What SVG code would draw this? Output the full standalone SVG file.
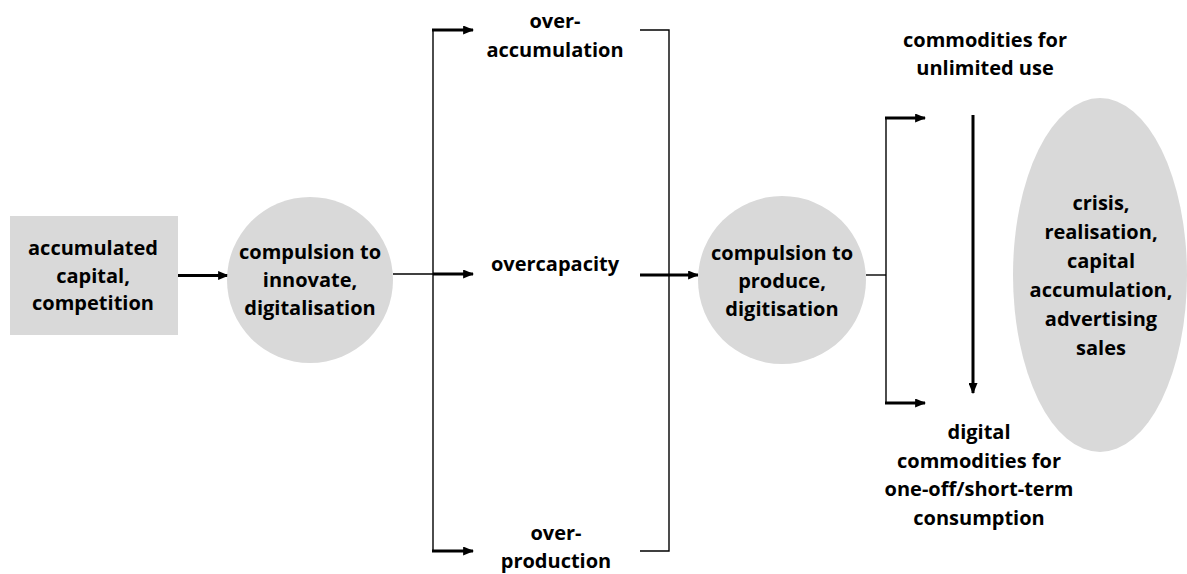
<svg xmlns="http://www.w3.org/2000/svg" width="1187" height="574" viewBox="0 0 1187 574">
<defs>
<style>
.node{fill:#d9d9d9;stroke:none}
.t{font-family:"Open Sans","Noto Sans",sans-serif;font-weight:bold;font-size:20px;fill:#000;text-anchor:middle}
.thick{stroke:#000;stroke-width:3;fill:none}
.thin{stroke:#000;stroke-width:1.4;fill:none}
</style>
<marker id="ah" viewBox="0 0 10 10" refX="9" refY="5" markerWidth="11" markerHeight="9" markerUnits="userSpaceOnUse" orient="auto" preserveAspectRatio="none">
<path d="M0,0 L10,5 L0,10 Z" fill="#000"/>
</marker>
</defs>
<rect width="1187" height="574" fill="#fff"/>

<g id="connectors">
<line class="thick" x1="178" y1="275.5" x2="228" y2="275.5" marker-end="url(#ah)"/>
<line class="thin" x1="393" y1="274" x2="433" y2="274"/>
<line class="thin" x1="433" y1="30" x2="433" y2="551"/>
<line class="thick" x1="432" y1="30" x2="473" y2="30" marker-end="url(#ah)"/>
<line class="thick" x1="433" y1="274" x2="473" y2="274" marker-end="url(#ah)"/>
<line class="thick" x1="432" y1="551" x2="473" y2="551" marker-end="url(#ah)"/>
<polyline class="thin" points="640,30 669,30 669,551 640,551"/>
<line class="thick" x1="640" y1="275" x2="698" y2="275" marker-end="url(#ah)"/>
<line class="thin" x1="866" y1="275" x2="886" y2="275"/>
<line class="thin" x1="886" y1="118" x2="886" y2="403"/>
<line class="thick" x1="885" y1="118" x2="925" y2="118" marker-end="url(#ah)"/>
<line class="thick" x1="885" y1="403" x2="925" y2="403" marker-end="url(#ah)"/>
<line class="thick" x1="973" y1="115" x2="973" y2="393" marker-end="url(#ah)"/>
</g>

<g id="n-capital">
<rect class="node" x="10" y="216" width="168" height="119"/>
<text class="t" x="93" y="255">accumulated</text>
<text class="t" x="93" y="282.5">capital,</text>
<text class="t" x="93" y="310">competition</text>
</g>

<g id="n-innovate">
<circle class="node" cx="310" cy="280" r="83"/>
<text class="t" x="310" y="259">compulsion to</text>
<text class="t" x="310" y="287">innovate,</text>
<text class="t" x="310" y="315">digitalisation</text>
</g>

<g id="n-overaccumulation">
<text class="t" x="555" y="28">over-</text>
<text class="t" x="555" y="57">accumulation</text>
</g>

<g id="n-overcapacity">
<text class="t" x="555" y="271">overcapacity</text>
</g>

<g id="n-overproduction">
<text class="t" x="556" y="540">over-</text>
<text class="t" x="556" y="568">production</text>
</g>

<g id="n-produce">
<circle class="node" cx="782" cy="280" r="84"/>
<text class="t" x="782" y="260">compulsion to</text>
<text class="t" x="782" y="288">produce,</text>
<text class="t" x="782" y="316">digitisation</text>
</g>

<g id="n-unlimited">
<text class="t" x="985" y="47">commodities for</text>
<text class="t" x="985" y="75">unlimited use</text>
</g>

<g id="n-oneoff">
<text class="t" x="979" y="439">digital</text>
<text class="t" x="979" y="467.5">commodities for</text>
<text class="t" x="979" y="496">one-off/short-term</text>
<text class="t" x="979" y="524.5">consumption</text>
</g>

<g id="n-crisis">
<ellipse class="node" cx="1100" cy="275" rx="87" ry="177"/>
<text class="t" x="1101" y="210">crisis,</text>
<text class="t" x="1101" y="239">realisation,</text>
<text class="t" x="1101" y="268">capital</text>
<text class="t" x="1101" y="297">accumulation,</text>
<text class="t" x="1101" y="326">advertising</text>
<text class="t" x="1101" y="355">sales</text>
</g>
</svg>
